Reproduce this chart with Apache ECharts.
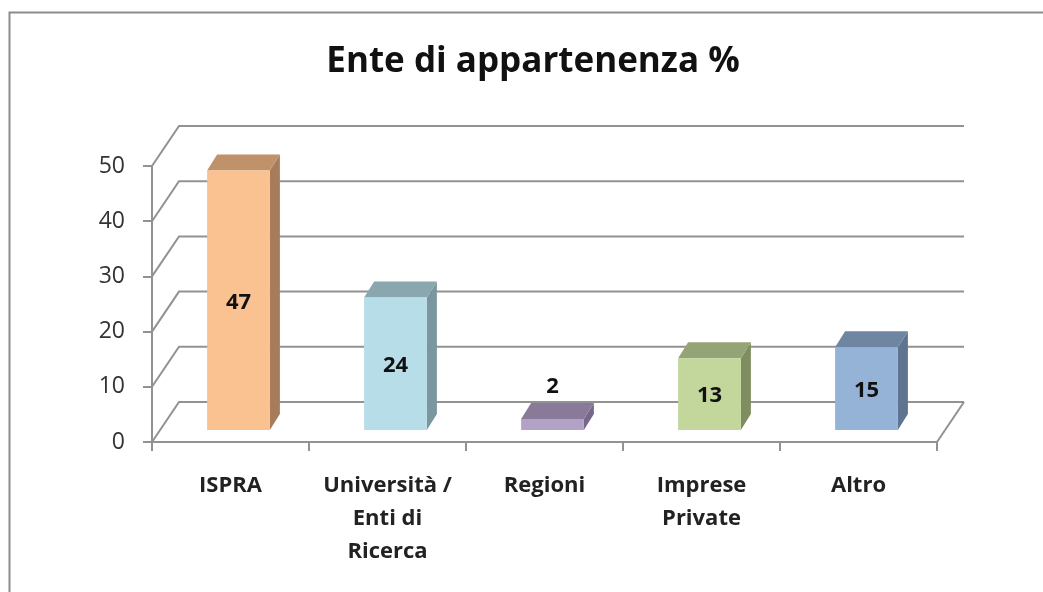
<!DOCTYPE html>
<html>
<head>
<meta charset="utf-8">
<style>html,body{margin:0;padding:0;background:#fff}#c{width:1043px;height:592px}</style>
<script src="https://cdn.jsdelivr.net/npm/echarts@6/dist/echarts.min.js"></script>
</head>
<body>
<div id="c"></div>
<script>
const categories = ['ISPRA', 'Università /\nEnti di\nRicerca', 'Regioni', 'Imprese\nPrivate', 'Altro'];
const values = [47, 24, 2, 13, 15];
const tickValues = [0, 10, 20, 30, 40, 50];
const frontColors = ['#FAC191', '#B7DDE8', '#B3A2C7', '#C3D69B', '#95B3D7'];
const topColors = ['#BF9269', '#8AA7B0', '#8A7A99', '#95A476', '#6F86A3'];
const sideColors = ['#A67C5A', '#7A979F', '#77688B', '#7F8D60', '#5F7490'];

const FONT = '"Open Sans", "Noto Sans", sans-serif';
const LINE = '#929292';
const WALL = [27, -40];          // depth of the back wall
const BAR_SHIFT = [8, -12];      // front face of the bars inside the floor
const BAR_DEPTH = [10, -16];     // depth of a bar

function renderWall(params, api) {
  const cs = params.coordSys;
  const y = api.coord([0, api.value(1)])[1];
  const x0 = cs.x, x1 = cs.x + cs.width;
  const children = [{
    type: 'polyline',
    shape: { points: [[x0, y], [x0 + WALL[0], y + WALL[1]], [x1 + WALL[0], y + WALL[1]]] },
    style: { fill: 'none', stroke: LINE, lineWidth: 2 }
  }];
  if (api.value(1) === 0) {
    children.push({
      type: 'line',
      shape: { x1: x1, y1: y, x2: x1 + WALL[0], y2: y + WALL[1] },
      style: { stroke: LINE, lineWidth: 2 }
    });
  }
  return { type: 'group', children };
}

function renderBar(params, api) {
  const i = params.dataIndex;
  const c = api.coord([api.value(0), api.value(1)]);
  const base = api.coord([api.value(0), 0]);
  const w = api.size([1, 0])[0] * 0.4;
  const l = c[0] - w / 2 + BAR_SHIFT[0], r = l + w;
  const t = c[1] + BAR_SHIFT[1], b = base[1] + BAR_SHIFT[1];
  const dx = BAR_DEPTH[0], dy = BAR_DEPTH[1];
  const labelY = (b - t) < 30 ? t - 32 : (t + b) / 2 + 2;
  return {
    type: 'group',
    children: [
      { type: 'polygon', shape: { points: [[r, t], [r + dx, t + dy], [r + dx, b + dy], [r, b]] }, style: { fill: sideColors[i] } },
      { type: 'polygon', shape: { points: [[l, t], [l + dx, t + dy], [r + dx, t + dy], [r, t]] }, style: { fill: topColors[i] } },
      { type: 'rect', shape: { x: l, y: t, width: w, height: b - t }, style: { fill: frontColors[i] } },
      { type: 'text', style: { x: (l + r) / 2, y: labelY, text: String(api.value(1)), fill: '#111', font: 'bold 22px ' + FONT, textAlign: 'center', textVerticalAlign: 'middle' } }
    ]
  };
}

const chart = echarts.init(document.getElementById('c'), null, { renderer: 'canvas' });
chart.setOption({
  animation: false,
  backgroundColor: '#fff',
  title: {
    text: 'Ente di appartenenza %',
    left: 528, top: 40, textAlign: 'center',
    textStyle: { fontFamily: FONT, fontWeight: 'bold', fontSize: 35, color: '#111' }
  },
  grid: { left: 152, right: 106, top: 166, bottom: 150 },
  xAxis: {
    type: 'category',
    data: categories,
    axisLine: { lineStyle: { color: LINE, width: 2 } },
    axisTick: { show: true, length: 9, alignWithLabel: false, lineStyle: { color: LINE, width: 2 } },
    axisLabel: { interval: 0, margin: 27, fontFamily: FONT, fontWeight: 'bold', fontSize: 22, color: '#222', lineHeight: 33, verticalAlign: 'top' }
  },
  yAxis: {
    type: 'value',
    min: 0, max: 50, interval: 10,
    axisLine: { show: true, lineStyle: { color: LINE, width: 2 } },
    axisTick: { show: true, length: 9, lineStyle: { color: LINE, width: 2 } },
    splitLine: { show: false },
    axisLabel: { margin: 27, fontFamily: FONT, fontSize: 23, color: '#333', lineHeight: 28, padding: [3, 0, 0, 0] }
  },
  graphic: [{
    type: 'polyline', silent: true,
    shape: { points: [[9.5, 592], [9.5, 12.5], [1043, 12.5]] },
    style: { fill: 'none', stroke: '#8c8c8c', lineWidth: 2 }
  }],
  series: [
    { type: 'custom', renderItem: renderWall, data: tickValues.map(v => [0, v]), z: 1, silent: true, clip: false },
    { type: 'custom', renderItem: renderBar, data: values.map((v, i) => [i, v]), z: 3, silent: true, clip: false }
  ]
});
</script>
</body>
</html>
